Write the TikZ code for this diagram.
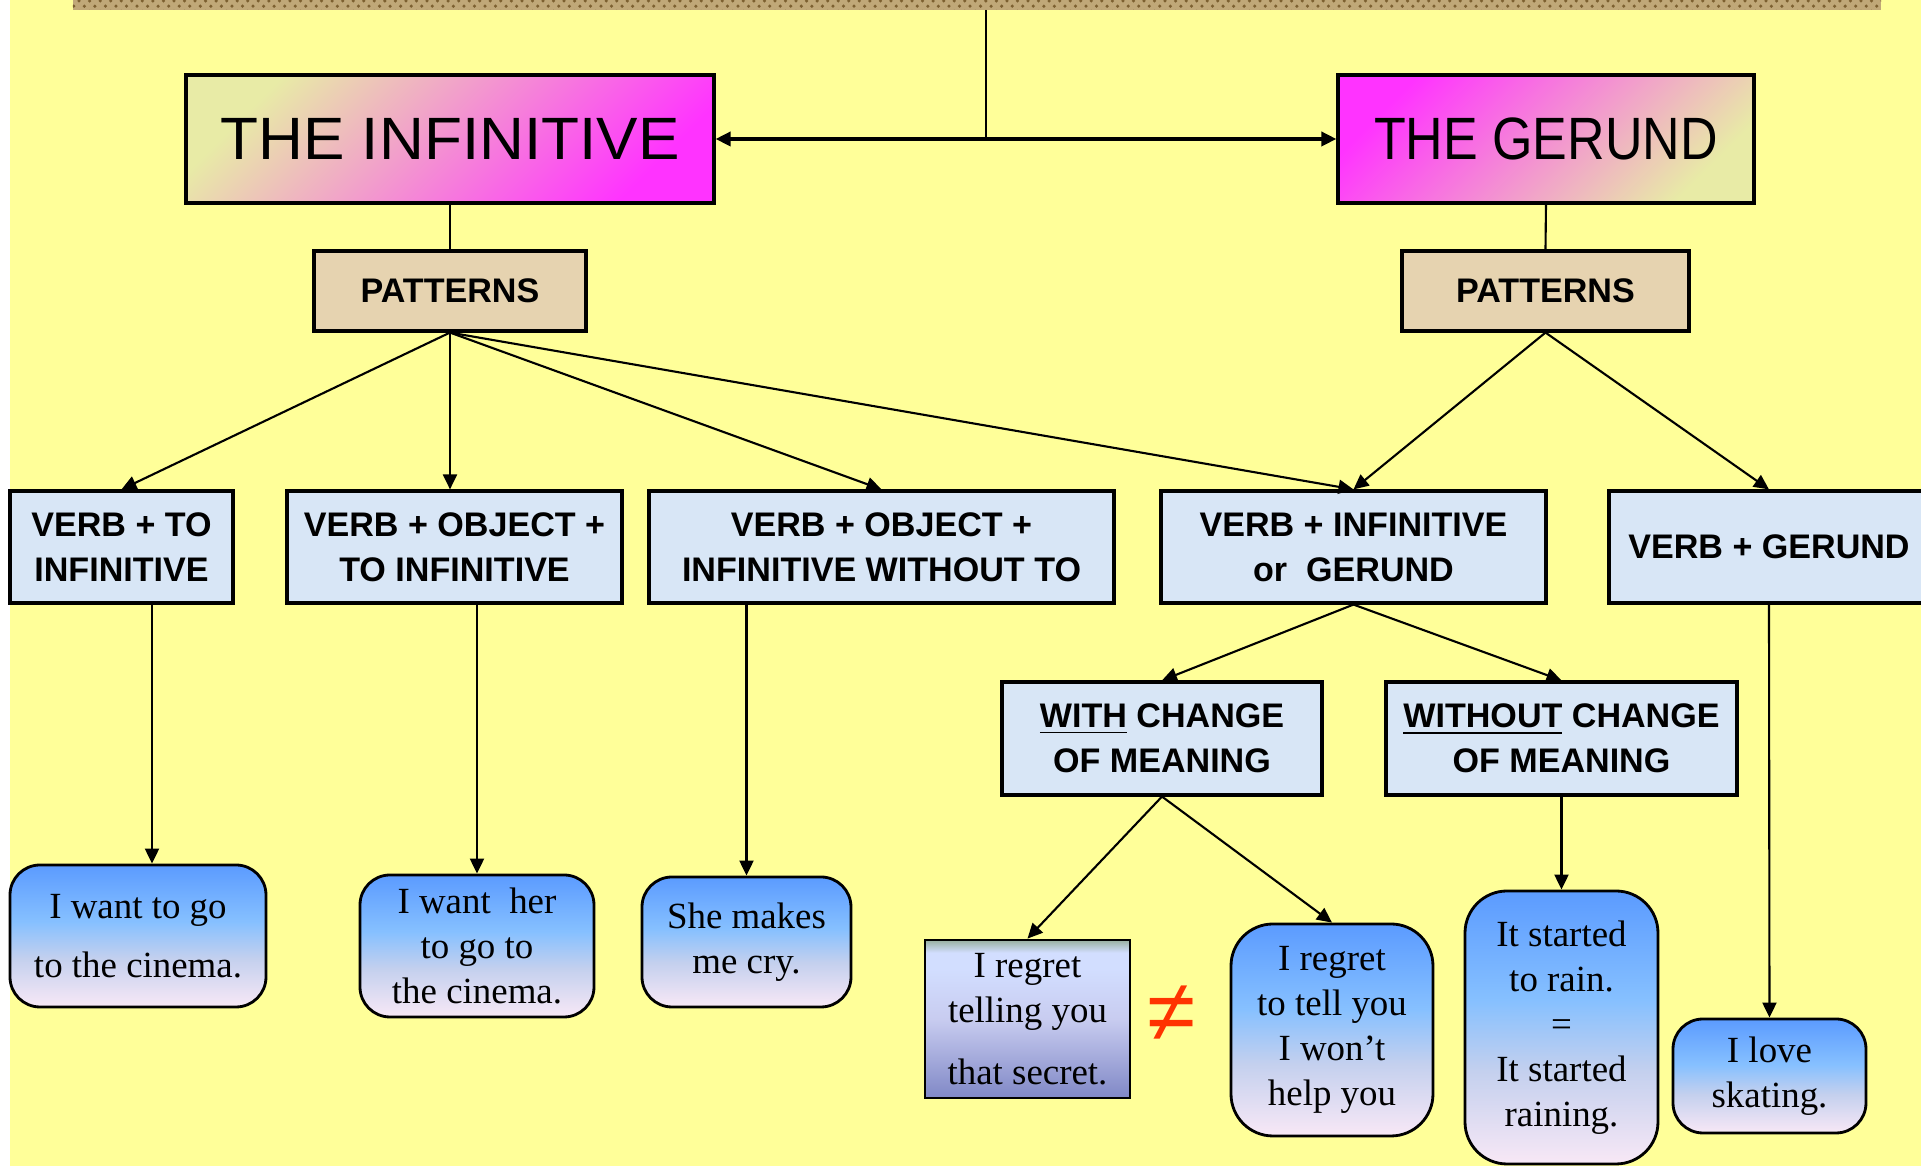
\documentclass[tikz,border=0pt]{standalone}
\usepackage{fontspec}
\setmainfont{Liberation Serif}
\newfontfamily\cajafont{Liberation Sans}
\newfontfamily\titinf[FakeStretch=1.04]{Liberation Sans}
\newfontfamily\titger[FakeStretch=0.87]{Liberation Sans}
\usetikzlibrary{arrows.meta,patterns}

\definecolor{fondo}{HTML}{FFFF99}
\definecolor{franja}{HTML}{C0A878}
\definecolor{franjaosc}{HTML}{7C6030}
\definecolor{amarillo}{HTML}{E8EBA6}
\definecolor{rosa}{HTML}{F4B6D2}
\definecolor{fucsia}{HTML}{FF33FF}
\definecolor{arena}{HTML}{E6D3B0}
\definecolor{celeste}{HTML}{D8E6F6}
\definecolor{azul}{HTML}{5B9BFF}
\definecolor{azulclaro}{HTML}{86C0FF}
\definecolor{gris}{HTML}{C4D0EE}
\definecolor{lila}{HTML}{F8E8F6}
\definecolor{verdegris}{HTML}{98B0A0}
\definecolor{pizarra}{HTML}{8088C6}
\definecolor{lavanda}{HTML}{C8CCF0}
\definecolor{hielo}{HTML}{D2DEFF}
\definecolor{rojo}{HTML}{FF3300}

\pgfdeclareverticalshading{degradado}{100bp}{color(0bp)=(lila); color(25bp)=(lila); color(42bp)=(gris); color(55bp)=(azulclaro); color(75bp)=(azul); color(100bp)=(azul)}
\pgfdeclareverticalshading{lamento}{100bp}{color(0bp)=(pizarra); color(25bp)=(pizarra); color(50bp)=(lavanda); color(66bp)=(hielo); color(71bp)=(hielo); color(75bp)=(verdegris); color(100bp)=(verdegris)}

\begin{document}
\begin{tikzpicture}[>={Triangle[length=1.5mm,width=1.4mm]}, line width=0.6pt,
  titulo/.style={draw, line width=0.9pt, minimum height=1.28cm, inner sep=0pt},
  patron/.style={draw, line width=0.9pt, fill=arena, minimum height=0.8cm, inner sep=0pt,
    font=\cajafont\bfseries\fontsize{9.7}{12.8}\selectfont},
  regla/.style={draw, line width=0.9pt, fill=celeste, align=center, inner sep=0pt,
    font=\cajafont\bfseries\fontsize{9.7}{12.8}\selectfont},
  frase/.style={draw, line width=0.8pt, rounded corners=0.3cm, shade, shading=degradado,
    align=center, inner sep=0pt, font=\fontsize{10.5}{12.8}\selectfont}]
  \useasboundingbox (0,0) rectangle (19.21,11.66);
  \clip (0,0) rectangle (19.21,11.66);

  % Fondo
  \fill[white] (0,0) rectangle (19.21,11.66);
  \fill[fondo] (0.10,0) rectangle (19.21,11.66);
  \fill[franja] (0.73,11.56) rectangle (18.81,11.66);
  \fill[pattern=crosshatch dots, pattern color=franjaosc] (0.73,11.56) rectangle (18.81,11.66);

  % Titulos
  \node[titulo, minimum width=5.28cm, top color=amarillo, middle color=rosa,
        bottom color=fucsia, shading angle=45, font=\titinf\fontsize{17}{20}\selectfont]
        (inf) at (4.50,10.27) {THE INFINITIVE};
  \node[titulo, minimum width=4.16cm, top color=fucsia, middle color=rosa,
        bottom color=amarillo, shading angle=45, font=\titger\fontsize{17}{20}\selectfont]
        (ger) at (15.46,10.27) {THE GERUND};
  \coordinate (arriba) at (9.86,11.56);

  % Patrones
  \node[patron, minimum width=2.72cm] (patl) at (4.50,8.75)  {PATTERNS};
  \node[patron, minimum width=2.87cm] (patr) at (15.455,8.75) {PATTERNS};

  % Estructuras
  \node[regla, minimum width=2.23cm, minimum height=1.12cm] (vti) at (1.215,6.19)
        {VERB + TO\\INFINITIVE};
  \node[regla, minimum width=3.35cm, minimum height=1.12cm] (vot) at (4.545,6.19)
        {VERB + OBJECT +\\TO INFINITIVE};
  \node[regla, minimum width=4.65cm, minimum height=1.12cm] (vow) at (8.815,6.19)
        {VERB + OBJECT +\\INFINITIVE WITHOUT TO};
  \node[regla, minimum width=3.85cm, minimum height=1.12cm] (vig) at (13.535,6.19)
        {VERB + INFINITIVE\\or~ GERUND};
  \node[regla, minimum width=3.20cm, minimum height=1.12cm] (vg) at (17.69,6.19)
        {VERB + GERUND};
  \node[regla, minimum width=3.20cm, minimum height=1.13cm] (wcm) at (11.62,4.275)
        {\underline{WITH} CHANGE\\OF MEANING};
  \node[regla, minimum width=3.51cm, minimum height=1.13cm] (wocm) at (15.615,4.275)
        {\underline{WITHOUT} CHANGE\\OF MEANING};

  % Ejemplos
  \node[frase, minimum width=2.56cm, minimum height=1.42cm] (ex1) at (1.38,2.30)
        {I want to go\\[4pt]to the cinema.};
  \node[frase, minimum width=2.34cm, minimum height=1.42cm] (ex2) at (4.77,2.20)
        {I want~ her\\to go to\\the cinema.};
  \node[frase, minimum width=2.09cm, minimum height=1.30cm] (ex3) at (7.465,2.24)
        {She makes\\me cry.};
  \node[frase, rounded corners=0pt, shading=lamento, minimum width=2.05cm,
        minimum height=1.58cm] (ex4) at (10.275,1.47)
        {I regret\\telling you\\[5pt]that secret.};
  \node[text=rojo, font=\cajafont\fontsize{25}{25}\selectfont] (neq) at (11.72,1.52) {≠};
  \node[frase, rounded corners=0.42cm, minimum width=2.02cm, minimum height=2.12cm]
        (ex5) at (13.32,1.36) {I regret\\to tell you\\I won’t\\help you};
  \node[frase, rounded corners=0.42cm, minimum width=1.93cm, minimum height=2.73cm]
        (ex6) at (15.615,1.385) {It started\\to rain.\\=\\It started\\raining.};
  \node[frase, minimum width=1.93cm, minimum height=1.14cm] (ex7) at (17.695,0.90)
        {I love\\skating.};

  % Conectores
  \draw (arriba) -- (arriba |- inf.east);
  \draw[<->, line width=1pt] (inf.east) -- (ger.west);
  \draw (inf.south) -- (patl.north);
  \draw (ger.south) -- (patr.north);
  \draw[->] (patl.south) -- (vti.north);
  \draw[->] (patl.south) -- (patl.south |- vot.north);
  \draw[->] (patl.south) -- (vow.north);
  \draw[->] (patl.south) -- (vig.north);
  \draw[->] (patr.south) -- (vig.north);
  \draw[->] (patr.south) -- (vg.north);
  \draw[->] (vig.south) -- (wcm.north);
  \draw[->] (vig.south) -- (wocm.north);
  \coordinate (a1) at ([xshift=1.4mm]ex1.north);
  \draw[->] (a1 |- vti.south) -- (a1);
  \draw[->] (ex2.north |- vot.south) -- (ex2.north);
  \draw[->] (ex3.north |- vow.south) -- (ex3.north);
  \draw[->] (wcm.south) -- (ex4.north);
  \draw[->] (wcm.south) -- (ex5.north);
  \draw[->] (wocm.south) -- (ex6.north);
  \draw[->] (vg.south) -- (ex7.north);
\end{tikzpicture}
\end{document}
